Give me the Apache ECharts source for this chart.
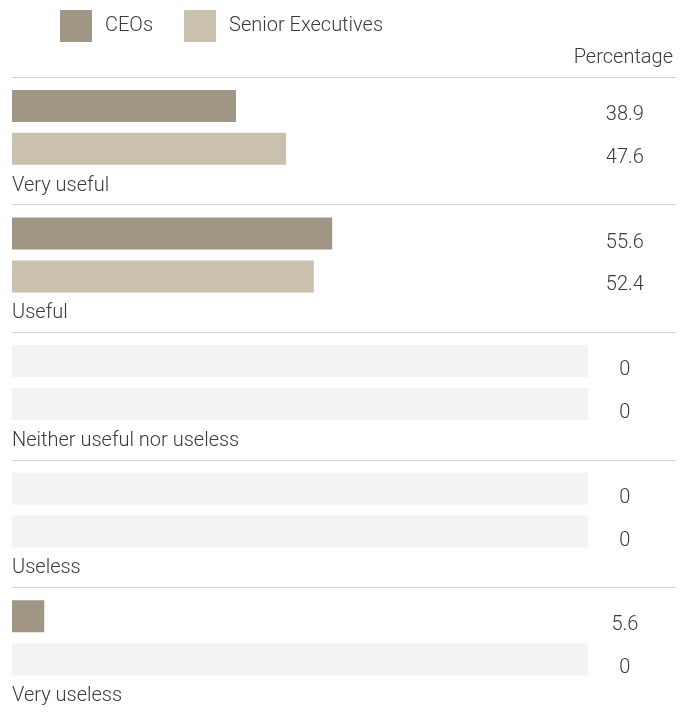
<!DOCTYPE html>
<html>
<head>
<meta charset="utf-8">
<script src="https://cdn.jsdelivr.net/npm/echarts@6/dist/echarts.min.js"></script>
<style>
  html, body { margin: 0; padding: 0; background: #fff; }
  #chart { width: 695px; height: 715px; }
</style>
</head>
<body>
<div id="chart"></div>
<script>
// data
var categories = ["Very useful", "Useful", "Neither useful nor useless", "Useless", "Very useless"];
var ceos = [38.9, 55.6, 0, 0, 5.6];
var seniorExecutives = [47.6, 52.4, 0, 0, 0];
var fullScale = 100;

var ceoColor = "#a19684";
var seColor = "#cac0ae";
var emptyColor = "#f4f3f1";
var textColor = "#3a3a3a";
var font = "Roboto";
var fontSize = 20;

// the part of each row past the bar: pale grey when the value is 0, otherwise invisible
function restOf(values) {
  return values.map(function (v) {
    return {
      value: fullScale - v,
      itemStyle: { color: v === 0 ? emptyColor : "transparent" }
    };
  });
}

function valueLabel(values) {
  return {
    show: true,
    position: "right",
    distance: 37,
    align: "center",
    offset: [0, 9],
    color: textColor,
    fontFamily: font,
    fontWeight: 300,
    fontSize: fontSize,
    formatter: function (p) { return values[p.dataIndex]; }
  };
}

var chart = echarts.init(document.getElementById("chart"));
chart.setOption({
  animation: false,
  backgroundColor: "#fff",
  title: {
    text: "Percentage",
    right: 22,
    top: 48,
    padding: 0,
    textStyle: { color: textColor, fontFamily: font, fontSize: fontSize, fontWeight: 300 }
  },
  legend: {
    data: ["CEOs", "Senior Executives"],
    left: 55,
    top: 5,
    icon: "rect",
    itemWidth: 32,
    itemHeight: 32,
    itemGap: 31,
    selectedMode: false,
    textStyle: { color: textColor, fontFamily: font, fontWeight: 300, fontSize: fontSize, padding: [0, 0, 0, 8] }
  },
  grid: { left: 12, right: 19, top: 77, height: 640 },
  xAxis: {
    type: "value",
    min: 0,
    max: 115.3,
    show: false
  },
  yAxis: {
    type: "category",
    inverse: true,
    data: categories,
    axisLine: { show: false },
    axisTick: { show: false },
    axisLabel: { show: false },
    splitLine: { show: true, lineStyle: { color: "#d0d0d0", width: 1 } }
  },
  series: [
    {
      name: "CEOs",
      type: "bar",
      stack: "ceo",
      barWidth: 32,
      barGap: "34%",
      silent: true,
      itemStyle: { color: ceoColor },
      data: ceos
    },
    {
      name: "ceoRest",
      type: "bar",
      stack: "ceo",
      barWidth: 32,
      barGap: "34%",
      silent: true,
      label: valueLabel(ceos),
      data: restOf(ceos)
    },
    {
      name: "Senior Executives",
      type: "bar",
      stack: "se",
      barWidth: 32,
      barGap: "34%",
      silent: true,
      itemStyle: { color: seColor },
      data: seniorExecutives
    },
    {
      name: "seRest",
      type: "bar",
      stack: "se",
      barWidth: 32,
      barGap: "34%",
      silent: true,
      label: valueLabel(seniorExecutives),
      data: restOf(seniorExecutives)
    },
    {
      // carries the category names under each pair of bars
      name: "names",
      type: "bar",
      barWidth: 16,
      barGap: "34%",
      silent: true,
      itemStyle: { color: "transparent" },
      label: {
        show: true,
        position: "insideLeft",
        distance: 0,
        offset: [0, 2],
        color: textColor,
        fontFamily: font,
        fontWeight: 300,
        fontSize: fontSize,
        formatter: function (p) { return p.name; }
      },
      data: categories.map(function () { return 0; })
    }
  ]
});
</script>
</body>
</html>
